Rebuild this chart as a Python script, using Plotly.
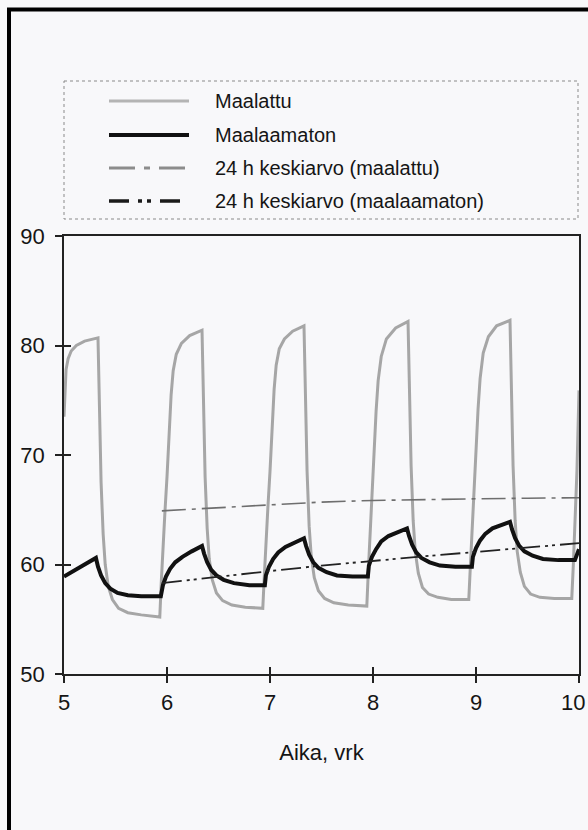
import plotly.graph_objects as go

# ---------------- data ----------------
x_tick_vals = [5, 6, 7, 8, 9, 10]
x_tick_text = ["5", "6", "7", "8", "9", "10"]
y_tick_vals = [50, 60, 70, 80, 90]

legend_names = ["Maalattu", "Maalaamaton",
                "24 h keskiarvo (maalattu)", "24 h keskiarvo (maalaamaton)"]

maalattu_x = [5.00, 5.01, 5.02, 5.04, 5.07, 5.12, 5.20, 5.33, 5.345, 5.36, 5.38, 5.40, 5.43, 5.47, 5.53, 5.62, 5.75, 5.93,
              5.945, 5.96, 5.98, 6.00, 6.02, 6.04, 6.06, 6.09, 6.14, 6.22, 6.34, 6.355, 6.37, 6.39, 6.41, 6.44, 6.48, 6.54, 6.63, 6.76, 6.93,
              6.945, 6.96, 6.98, 7.00, 7.02, 7.04, 7.06, 7.09, 7.14, 7.22, 7.33, 7.345, 7.36, 7.38, 7.40, 7.43, 7.47, 7.53, 7.62, 7.76, 7.94,
              7.955, 7.97, 7.99, 8.01, 8.03, 8.05, 8.08, 8.13, 8.22, 8.34, 8.355, 8.37, 8.39, 8.41, 8.44, 8.48, 8.54, 8.63, 8.76, 8.93,
              8.945, 8.96, 8.98, 9.00, 9.02, 9.04, 9.07, 9.12, 9.20, 9.33, 9.345, 9.36, 9.38, 9.40, 9.43, 9.47, 9.53, 9.62, 9.76, 9.93,
              9.945, 9.96, 9.98, 10.0]
maalattu_y = [73.5, 76.3, 77.8, 78.8, 79.5, 80.0, 80.4, 80.7, 74.0, 67.5, 62.8, 60.0, 58.0, 56.8, 56.0, 55.6, 55.4, 55.2,
              58.5, 61.5, 64.8, 68.0, 72.0, 75.5, 77.7, 79.2, 80.2, 80.9, 81.4, 74.5, 68.0, 63.3, 60.5, 58.6, 57.4, 56.7, 56.3, 56.1, 56.0,
              59.0, 62.0, 65.3, 68.5, 72.5, 76.0, 78.2, 79.7, 80.6, 81.3, 81.8, 75.0, 68.5, 63.5, 60.8, 58.8, 57.6, 56.9, 56.5, 56.3, 56.2,
              59.5, 62.5, 66.0, 70.0, 74.0, 76.8, 79.0, 80.6, 81.6, 82.2, 75.5, 69.0, 64.0, 61.2, 59.2, 57.9, 57.3, 57.0, 56.8, 56.8,
              59.8, 62.8, 66.3, 70.2, 74.2, 77.0, 79.3, 80.8, 81.8, 82.3, 75.5, 69.0, 64.0, 61.2, 59.3, 58.0, 57.3, 57.0, 56.9, 56.9,
              60.0, 63.5, 68.5, 75.9]

maalaamaton_x = [5.00, 5.10, 5.20, 5.31, 5.33, 5.36, 5.40, 5.45, 5.52, 5.62, 5.75, 5.94,
                 5.96, 5.99, 6.03, 6.08, 6.15, 6.24, 6.34, 6.36, 6.39, 6.43, 6.48, 6.55, 6.65, 6.80, 6.95,
                 6.96, 6.99, 7.03, 7.08, 7.15, 7.24, 7.33, 7.35, 7.38, 7.42, 7.47, 7.55, 7.65, 7.80, 7.95,
                 7.96, 7.99, 8.03, 8.08, 8.15, 8.24, 8.33, 8.35, 8.38, 8.42, 8.47, 8.55, 8.65, 8.80, 8.96,
                 8.97, 9.00, 9.04, 9.09, 9.16, 9.25, 9.33, 9.35, 9.38, 9.42, 9.47, 9.55, 9.65, 9.80, 9.96,
                 9.98, 10.0]
maalaamaton_y = [58.9, 59.4, 60.0, 60.6, 59.8, 59.0, 58.3, 57.8, 57.4, 57.2, 57.1, 57.1,
                 58.1, 58.9, 59.6, 60.2, 60.7, 61.2, 61.7, 61.0, 60.2, 59.5, 59.0, 58.6, 58.3, 58.1, 58.1,
                 59.0, 59.8, 60.5, 61.1, 61.6, 62.0, 62.4, 61.7, 60.9, 60.2, 59.7, 59.3, 59.0, 58.9, 58.9,
                 59.9, 60.7, 61.4, 62.1, 62.6, 63.0, 63.3, 62.6, 61.8, 61.1, 60.6, 60.2, 59.9, 59.8, 59.8,
                 60.7, 61.5, 62.2, 62.8, 63.3, 63.6, 63.9, 63.2, 62.4, 61.7, 61.2, 60.8, 60.5, 60.4, 60.4,
                 60.9, 61.4]

avg_x = [5.95, 6.5, 7.0, 7.5, 8.0, 8.5, 9.0, 9.5, 10.0]
avg_maalattu_y = [64.9, 65.2, 65.45, 65.7, 65.85, 65.95, 66.0, 66.05, 66.1]
avg_maalaamaton_y = [58.3, 58.9, 59.4, 59.9, 60.35, 60.75, 61.15, 61.55, 61.95]

x_title = "Aika, vrk"

# ---------------- styling ----------------
W, H = 588, 830
ML, MR, MT, MB = 64, 9, 236, 156
PW = W - ML - MR
PH = H - MT - MB
BG = "#f8f8fa"
FONT = "Liberation Sans, Arial, sans-serif"
TXT = "#151515"

GRAY = "#a6a6a6"
AVG_GRAY = "#6e6e6e"
DASHDOT = "24px,6px,4px,6px"
DASHDOTDOT = "20px,5px,3px,4px,3px,5px"


def px(xp):
    return (xp - ML) / PW


def py(yp):
    return (H - MB - yp) / PH


fig = go.Figure()
fig.add_trace(go.Scatter(x=maalattu_x, y=maalattu_y, mode="lines", name=legend_names[0],
                         line=dict(color=GRAY, width=3), showlegend=False))
fig.add_trace(go.Scatter(x=maalaamaton_x, y=maalaamaton_y, mode="lines", name=legend_names[1],
                         line=dict(color="#111111", width=4), showlegend=False))
fig.add_trace(go.Scatter(x=avg_x, y=avg_maalattu_y, mode="lines", name=legend_names[2],
                         line=dict(color=AVG_GRAY, width=1.6, dash=DASHDOT), showlegend=False))
fig.add_trace(go.Scatter(x=avg_x, y=avg_maalaamaton_y, mode="lines", name=legend_names[3],
                         xaxis="x2", yaxis="y2",
                         line=dict(color="#222222", width=1.8, dash=DASHDOTDOT), showlegend=False))

axis_common = dict(showgrid=False, zeroline=False, ticklabeloverflow="allow", automargin=False,
                   tickfont=dict(size=22, color=TXT, family=FONT))

# the last x tick label is placed flush with the right edge so it stays fully visible
main_x_text = x_tick_text[:-1] + [""]

fig.update_layout(
    width=W, height=H,
    margin=dict(l=ML, r=MR, t=MT, b=MB, pad=0, autoexpand=False),
    paper_bgcolor=BG, plot_bgcolor=BG,
    font=dict(family=FONT, color=TXT),
    xaxis=dict(range=[5, 10], tickvals=x_tick_vals, ticktext=main_x_text, ticks="outside", ticklen=7,
               tickwidth=1.5, tickcolor="#222", showline=True, linecolor="#222", linewidth=1.5,
               mirror=True, ticklabelstandoff=1,
               title=dict(text=x_title, font=dict(size=22, color=TXT, family=FONT), standoff=30),
               **axis_common),
    yaxis=dict(range=[50, 90], tickvals=y_tick_vals, ticks="outside", ticklen=7, tickwidth=1.5,
               tickcolor="#222", showline=True, linecolor="#222", linewidth=1.5, mirror=True,
               ticklabelstandoff=6, **axis_common),
    xaxis2=dict(range=[5, 10], tickvals=x_tick_vals, ticks="inside", ticklen=7, tickwidth=1.5,
                tickcolor="#222", overlaying="x", anchor="y2", showticklabels=False, showline=False,
                showgrid=False, zeroline=False, automargin=False),
    yaxis2=dict(range=[50, 90], tickvals=y_tick_vals, ticks="inside", ticklen=7, tickwidth=1.5,
                tickcolor="#222", overlaying="y", anchor="x2", showticklabels=False, showline=False,
                showgrid=False, zeroline=False, automargin=False),
    showlegend=False,
)

shapes = []
# outer frame of the figure
shapes.append(dict(type="rect", xref="paper", yref="paper",
                   x0=px(9), x1=px(W + 20), y0=py(9.5), y1=py(H + 20),
                   line=dict(color="#000", width=4), fillcolor="rgba(0,0,0,0)", layer="above"))
# legend box (dotted)
shapes.append(dict(type="rect", xref="paper", yref="paper",
                   x0=px(64), x1=px(578), y0=py(81), y1=py(219),
                   line=dict(color="#8a8a8a", width=1, dash="dot"), fillcolor="rgba(0,0,0,0)"))

legend_rows_y = [101, 135, 168, 201]
legend_styles = [
    dict(color="#b4b4b4", width=3, dash="solid"),
    dict(color="#111111", width=4, dash="solid"),
    dict(color="#8c8c8c", width=3, dash="26px,9px,6px,9px"),
    dict(color="#1a1a1a", width=3.5, dash="20px,9px,4px,5px,4px,9px"),
]
annotations = []
for name, ry, st in zip(legend_names, legend_rows_y, legend_styles):
    shapes.append(dict(type="line", xref="paper", yref="paper",
                       x0=px(109), x1=px(189), y0=py(ry), y1=py(ry), line=st))
    annotations.append(dict(text=name, xref="paper", yref="paper", x=px(213), y=py(ry),
                            xanchor="left", yanchor="middle", showarrow=False,
                            font=dict(size=20, color=TXT, family=FONT)))

# last x tick label
annotations.append(dict(text=x_tick_text[-1], xref="paper", yref="paper", x=px(W - 1), y=py(702),
                        xanchor="right", yanchor="middle", showarrow=False,
                        font=dict(size=22, color=TXT, family=FONT)))

fig.update_layout(shapes=shapes, annotations=annotations)

fig.write_html("out.html", config={"displayModeBar": False},
               post_script="document.body.style.margin='0';document.body.style.overflow='hidden';")
